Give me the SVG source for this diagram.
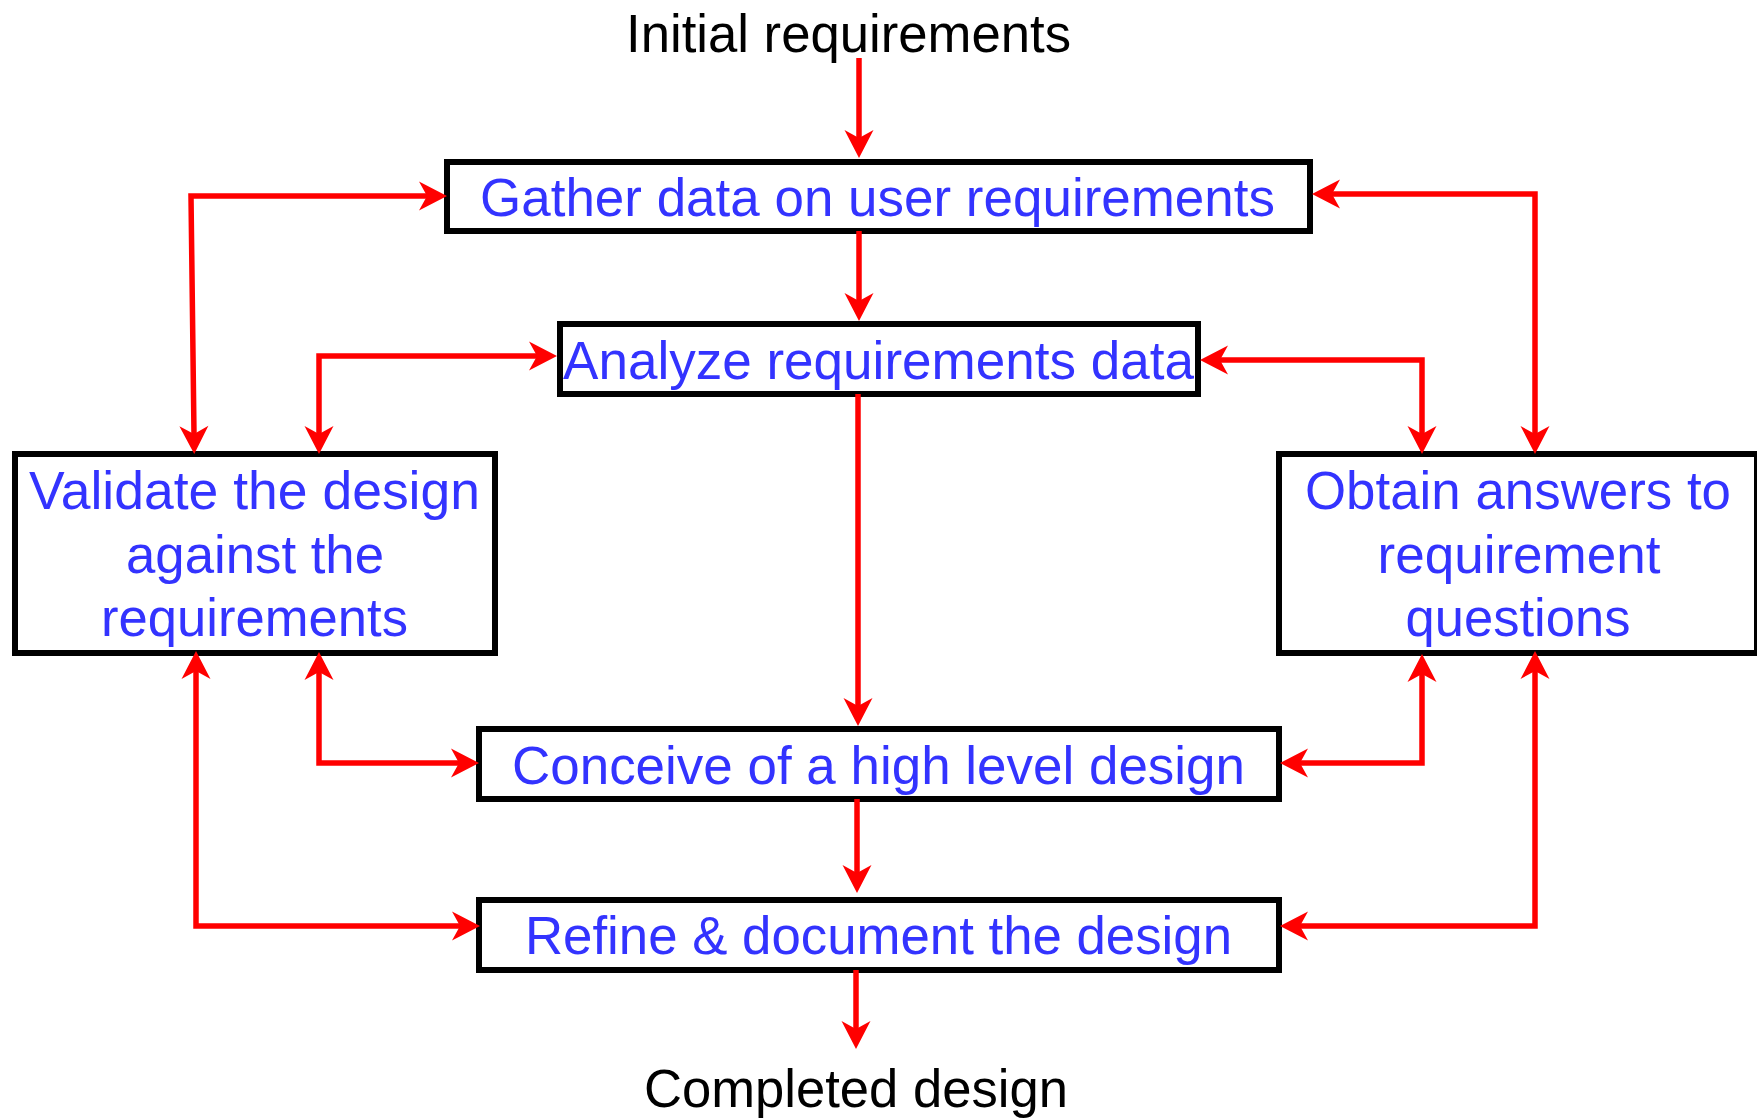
<svg xmlns="http://www.w3.org/2000/svg" width="1757" height="1119" viewBox="0 0 1757 1119">
<style>
.box{fill:#ffffff;stroke:#000000;stroke-width:6}
.lbl{font-family:"Liberation Sans",Arial,sans-serif;font-size:53px;fill:#3333ff;text-anchor:middle}
.term{font-family:"Liberation Sans",Arial,sans-serif;font-size:53px;fill:#000000;text-anchor:middle}
.con{fill:none;stroke:#ff0000;stroke-width:5.5;stroke-linejoin:miter}
</style>
<defs>
<marker id="ah" viewBox="-10 -16 32 32" refX="0" refY="0" markerWidth="32" markerHeight="32" markerUnits="userSpaceOnUse" orient="auto-start-reverse">
<path d="M20,0 L-8,-14.5 L0,0 L-8,14.5 Z" fill="#ff0000"/>
</marker>
</defs>
<rect width="1757" height="1119" fill="#ffffff"/>

<g id="initial">
<text class="term" x="848.5" y="52" textLength="445" lengthAdjust="spacingAndGlyphs">Initial requirements</text>
</g>
<g id="gather">
<rect class="box" x="447" y="162" width="863" height="69"/>
<text class="lbl" x="877.5" y="216" textLength="795" lengthAdjust="spacingAndGlyphs">Gather data on user requirements</text>
</g>
<g id="analyze">
<rect class="box" x="560" y="324" width="638" height="70"/>
<text class="lbl" x="878.5" y="378.5" textLength="631" lengthAdjust="spacingAndGlyphs">Analyze requirements data</text>
</g>
<g id="validate">
<rect class="box" x="15" y="454" width="480" height="199"/>
<text class="lbl" x="254.5" y="509" textLength="451" lengthAdjust="spacingAndGlyphs">Validate the design</text>
<text class="lbl" x="255" y="572.5" textLength="258" lengthAdjust="spacingAndGlyphs">against the</text>
<text class="lbl" x="254.5" y="636" textLength="307" lengthAdjust="spacingAndGlyphs">requirements</text>
</g>
<g id="obtain">
<rect class="box" x="1279" y="454" width="478" height="199"/>
<text class="lbl" x="1518" y="509" textLength="426" lengthAdjust="spacingAndGlyphs">Obtain answers to</text>
<text class="lbl" x="1519" y="572.5" textLength="283" lengthAdjust="spacingAndGlyphs">requirement</text>
<text class="lbl" x="1518" y="636" textLength="225" lengthAdjust="spacingAndGlyphs">questions</text>
</g>
<g id="conceive">
<rect class="box" x="479" y="729" width="800" height="70"/>
<text class="lbl" x="878.5" y="784" textLength="733" lengthAdjust="spacingAndGlyphs">Conceive of a high level design</text>
</g>
<g id="refine">
<rect class="box" x="479" y="900" width="800" height="70"/>
<text class="lbl" x="878.5" y="953.5" textLength="707" lengthAdjust="spacingAndGlyphs">Refine &amp; document the design</text>
</g>
<g id="completed">
<text class="term" x="856" y="1107" textLength="424" lengthAdjust="spacingAndGlyphs">Completed design</text>
</g>

<g id="connectors">
<path class="con" d="M859,58 L859,138" marker-end="url(#ah)"/>
<path class="con" d="M859,231 L859,301" marker-end="url(#ah)"/>
<path class="con" d="M858,394 L858,706" marker-end="url(#ah)"/>
<path class="con" d="M857,799 L857,873" marker-end="url(#ah)"/>
<path class="con" d="M856,970 L856,1029" marker-end="url(#ah)"/>

<path class="con" d="M194,434 L191,196 L427,196" marker-start="url(#ah)" marker-end="url(#ah)"/>
<path class="con" d="M319,434 L319,356 L537,356" marker-start="url(#ah)" marker-end="url(#ah)"/>
<path class="con" d="M319,672 L319,763 L459,763" marker-start="url(#ah)" marker-end="url(#ah)"/>
<path class="con" d="M196,671 L196,926 L460,926" marker-start="url(#ah)" marker-end="url(#ah)"/>

<path class="con" d="M1535,434 L1535,194 L1332,194" marker-start="url(#ah)" marker-end="url(#ah)"/>
<path class="con" d="M1422,434 L1422,360 L1220,360" marker-start="url(#ah)" marker-end="url(#ah)"/>
<path class="con" d="M1422,674 L1422,763 L1300,763" marker-start="url(#ah)" marker-end="url(#ah)"/>
<path class="con" d="M1535,671 L1535,926 L1300,926" marker-start="url(#ah)" marker-end="url(#ah)"/>
</g>
</svg>
